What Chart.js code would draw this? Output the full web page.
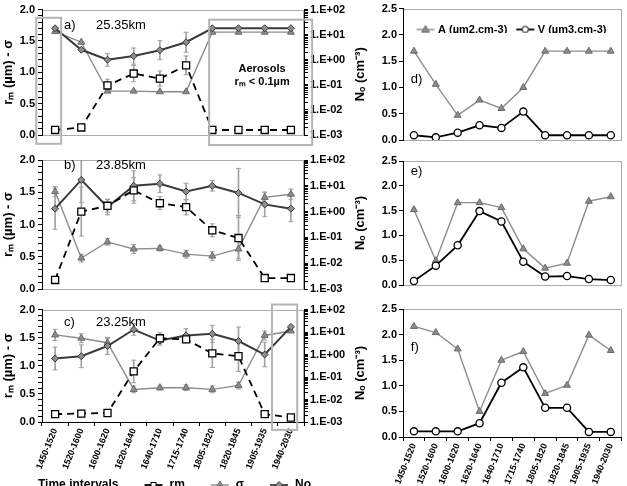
<!DOCTYPE html>
<html><head><meta charset="utf-8">
<script src="https://cdn.jsdelivr.net/npm/chart.js@4/dist/chart.umd.min.js"></script>
<style>
html,body{margin:0;padding:0;background:#fff;overflow:hidden;width:627px;height:486px;position:relative}
canvas{position:absolute}
</style></head><body>
<canvas id="ca" width="350" height="150" style="left:0;top:0;width:350px;height:150px"></canvas>
<canvas id="cb" width="350" height="150" style="left:0;top:150px;width:350px;height:150px"></canvas>
<canvas id="cc" width="363" height="201" style="left:-13px;top:300px;width:363px;height:201px"></canvas>
<canvas id="cd" width="282" height="150" style="left:345px;top:0;width:282px;height:150px"></canvas>
<canvas id="ce" width="282" height="150" style="left:345px;top:150px;width:282px;height:150px"></canvas>
<canvas id="cf" width="282" height="200" style="left:345px;top:300px;width:282px;height:200px"></canvas>
<canvas id="cl" width="219" height="40" style="left:403px;top:13px;width:219px;height:40px"></canvas>
<script>
// ---------------- data ----------------
const categories = ['1450-1520','1520-1600','1600-1620','1620-1640','1640-1710','1715-1740','1805-1820','1820-1845','1905-1935','1940-2030'];

// panel a (25.35 km)
const rmA      = [0.08, 0.12, 0.79, 0.98, 0.90, 1.11, 0.08, 0.08, 0.08, 0.08];
const rmErrA   = [0, 0, 0.10, 0.13, 0.12, 0.15, 0, 0, 0, 0];
const sigmaA   = [1.65, 1.48, 0.70, 0.70, 0.69, 0.69, 1.64, 1.64, 1.64, 1.64];
const sigmaErrA= [0, 0, 0, 0, 0, 0, 0, 0, 0, 0];
const noA      = [18, 2.5, 1.0, 1.4, 2.4, 5.0, 18, 18, 18, 18];
const noErrFA  = [0, 0, 1.8, 2.1, 2.4, 2.5, 0, 0, 0, 0];

// panel b (23.85 km)
const rmB      = [0.14, 1.20, 1.29, 1.53, 1.33, 1.27, 0.91, 0.79, 0.17, 0.17];
const rmErrB   = [0.03, 0.38, 0.10, 0.20, 0.10, 0.12, 0.10, 0.35, 0, 0.05];
const sigmaB   = [1.51, 0.48, 0.73, 0.62, 0.63, 0.54, 0.51, 0.62, 1.42, 1.47];
const sigmaErrB= [0.08, 0.06, 0.05, 0.07, 0.04, 0.06, 0.07, 0.15, 0.08, 0.08];
const noB      = [1.3, 17, 1.5, 10, 12, 6.0, 10, 5.3, 1.9, 1.3];
const noErrFB  = [6.3, 7.5, 2.0, 3.8, 2.2, 2.1, 1.6, 8.9, 3.0, 3.2];

// panel c (23.25 km)
const rmC      = [0.14, 0.15, 0.16, 0.90, 1.49, 1.47, 1.22, 1.17, 0.14, 0.08];
const rmErrC   = [0, 0.06, 0, 0.20, 0.10, 0.06, 0.25, 0.27, 0, 0];
const sigmaC   = [1.55, 1.49, 1.41, 0.58, 0.61, 0.61, 0.58, 0.65, 1.54, 1.62];
const sigmaErrC= [0.10, 0.08, 0.08, 0.06, 0.04, 0.05, 0.06, 0.06, 0.08, 0];
const noC      = [0.67, 0.84, 2.4, 13, 4.2, 7.1, 8.4, 4.0, 1.0, 17];
const noErrFC  = [3.2, 3.2, 2.4, 1.8, 1.6, 2.0, 2.4, 4.2, 3.5, 0];

// right panels: A (µm2.cm-3) and V (µm3.cm-3)
const areaD = [1.69, 1.06, 0.47, 0.76, 0.60, 1.00, 1.69, 1.69, 1.69, 1.69];
const volD  = [0.09, 0.05, 0.14, 0.28, 0.23, 0.54, 0.09, 0.09, 0.09, 0.09];
const areaE = [1.52, 0.49, 1.66, 1.66, 1.56, 0.73, 0.34, 0.44, 1.69, 1.78];
const volE  = [0.08, 0.39, 0.80, 1.49, 1.28, 0.47, 0.17, 0.18, 0.12, 0.10];
const areaF = [2.16, 2.04, 1.72, 0.50, 1.50, 1.67, 0.85, 1.01, 1.99, 1.69];
const volF  = [0.11, 0.11, 0.11, 0.27, 1.06, 1.36, 0.57, 0.57, 0.10, 0.10];

// tick labels
const rmTickLabels = ['0.0','0.5','1.0','1.5','2.0'];
const noTickLabels = ['1.E-03','1.E-02','1.E-01','1.E+00','1.E+01','1.E+02'];
const avTickLabels = ['0.0','0.5','1.0','1.5','2.0','2.5'];

// ---------------- style ----------------
const FONT = '"Liberation Sans", Arial, Helvetica, sans-serif';
Chart.defaults.font.family = FONT;
Chart.defaults.color = '#000';
Chart.defaults.animation = false;

const C_RM = '#000000', C_SIG = '#8c8c8c', C_SIGB = '#6a6a6a', C_NO = '#3a3a3a', C_ERR = '#a2a2a2', C_FRAME = '#ababab';

// legend symbol: line with marker, drawn in [x0, x0+18] of a canvas of width w
function sym(kind, w, x0) {
  const c = document.createElement('canvas'); c.width = w; c.height = 10;
  const g = c.getContext('2d');
  const col = {rm: C_RM, sig: C_SIG, no: C_NO, A: C_SIG, V: C_RM}[kind];
  const m = x0 + 9;
  g.strokeStyle = col; g.lineWidth = kind === 'sig' || kind === 'A' ? 1.4 : 1.8;
  g.beginPath(); g.moveTo(x0, 5); g.lineTo(x0 + 18, 5); g.stroke();
  g.lineWidth = 1;
  if (kind === 'rm') { g.fillStyle = '#fff'; g.fillRect(m - 3, 2, 6, 6); g.strokeStyle = '#000'; g.strokeRect(m - 2.5, 2.5, 5, 5); }
  if (kind === 'sig' || kind === 'A') { g.fillStyle = C_SIG; g.strokeStyle = C_SIGB; g.beginPath(); g.moveTo(m, 1); g.lineTo(m + 4, 8); g.lineTo(m - 4, 8); g.closePath(); g.fill(); g.stroke(); }
  if (kind === 'no') { g.fillStyle = '#8c8c8c'; g.strokeStyle = C_NO; g.beginPath(); g.moveTo(m, 1.5); g.lineTo(m + 3.5, 5); g.lineTo(m, 8.5); g.lineTo(m - 3.5, 5); g.closePath(); g.fill(); g.stroke(); }
  if (kind === 'V') { g.fillStyle = '#fff'; g.strokeStyle = '#000'; g.beginPath(); g.arc(m, 5, 3.2, 0, Math.PI * 2); g.fill(); g.stroke(); }
  return c;
}
const blank = document.createElement('canvas'); blank.width = 1; blank.height = 1;

const logTicks = [];
for (let e = -3; e <= 1; e++) for (let s = 1; s <= 9; s++) logTicks.push(+(s * Math.pow(10, e)).toPrecision(3));
logTicks.push(100);

function rmLabel(v) { const k = Math.round(v * 10); return (Math.abs(v * 10 - k) < 1e-6 && k % 5 === 0) ? rmTickLabels[k / 5] : ''; }
function noLabel(v) { const e = Math.log10(v); const r = Math.round(e); return Math.abs(e - r) < 1e-6 ? noTickLabels[r + 3] : ''; }
function avLabel(v) { const k = Math.round(v * 2); return Math.abs(v * 2 - k) < 1e-6 ? avTickLabels[k] : ''; }

// decoration plugin: light frame around plot area, annotation boxes and texts
const deco = {
  id: 'deco',
  beforeDraw(chart, args, o) {
    if (!o.frame) return;
    const {ctx, chartArea: a} = chart;
    ctx.save(); ctx.strokeStyle = C_FRAME; ctx.lineWidth = 1;
    ctx.strokeRect(Math.round(a.left) + 0.5, Math.round(a.top) + 0.5, Math.round(a.right - a.left) - 1, Math.round(a.bottom - a.top));
    ctx.restore();
  },
  afterDatasetsDraw(chart, args, o) {
    const {ctx, scales} = chart; const x = scales.x, y = scales.y;
    if (!x || !y) return;
    ctx.save();
    (o.boxes || []).forEach(b => {
      ctx.strokeStyle = '#b4b4b4'; ctx.lineWidth = 2;
      const x0 = x.getPixelForValue(b.x0), x1 = x.getPixelForValue(b.x1);
      const y0 = y.getPixelForValue(b.y1), y1 = y.getPixelForValue(b.y0);
      ctx.strokeRect(x0, y0, x1 - x0, y1 - y0);
    });
    (o.texts || []).forEach(t => {
      ctx.fillStyle = '#000'; ctx.font = t.font; ctx.textAlign = t.align || 'left'; ctx.textBaseline = 'middle';
      ctx.fillText(t.text, x.getPixelForValue(t.x), y.getPixelForValue(t.y));
    });
    ctx.restore();
  }
};

function errorDatasets(vals, errs, yAxisID, factor) {
  const lo = vals.map((v, i) => errs[i] ? (factor ? v / errs[i] : v - errs[i]) : null);
  const hi = vals.map((v, i) => errs[i] ? (factor ? v * errs[i] : v + errs[i]) : null);
  const cap = {type: 'line', yAxisID, showLine: false, pointStyle: 'line', pointRadius: 2.5, pointBorderColor: C_ERR, pointBorderWidth: 1, order: 20};
  return [
    {type: 'bar', data: lo.map((l, i) => l === null ? null : [l, hi[i]]), yAxisID, backgroundColor: C_ERR, barThickness: 1, grouped: false, order: 20},
    Object.assign({data: lo}, cap),
    Object.assign({data: hi}, cap)
  ];
}

function leftChart(id, c) {
  const datasets = [
    {label: 'rm', data: c.rm, yAxisID: 'y', borderColor: C_RM, borderWidth: 1.8, borderDash: [7, 5], pointStyle: 'rect', pointRadius: 5, pointBackgroundColor: '#fff', pointBorderColor: '#000', pointBorderWidth: 1.3, order: 1},
    {label: 'σ', data: c.sig, yAxisID: 'y', borderColor: C_SIG, borderWidth: 1.4, pointStyle: 'triangle', pointRadius: 4, pointBackgroundColor: C_SIG, pointBorderColor: C_SIGB, pointBorderWidth: 1, order: 3},
    {label: 'No', data: c.no, yAxisID: 'y2', borderColor: C_NO, borderWidth: 2, pointStyle: 'rectRot', pointRadius: 3.5, pointBackgroundColor: '#8c8c8c', pointBorderColor: C_NO, pointBorderWidth: 1, order: 2},
    ...errorDatasets(c.rm, c.rmErr, 'y', false),
    ...errorDatasets(c.sig, c.sigErr, 'y', false),
    ...errorDatasets(c.no, c.noErr, 'y2', true)
  ];
  return new Chart(document.getElementById(id), {
    type: 'line',
    data: {labels: categories, datasets},
    plugins: [deco],
    options: {
      responsive: false, devicePixelRatio: 1, animation: false,
      layout: {padding: {top: c.padTop, left: 0, right: 0, bottom: 0}},
      elements: {line: {tension: 0}},
      plugins: {
        tooltip: {enabled: false},
        deco: {frame: true, boxes: c.boxes, texts: c.texts},
        legend: c.legend || {display: false}
      },
      scales: {
        x: {type: 'category', offset: true,
          grid: {offset: true, drawOnChartArea: false, drawTicks: c.showX, tickLength: 4, color: '#000'},
          border: {color: c.showX ? '#000' : C_FRAME, width: 1},
          ticks: {display: c.showX, autoSkip: false, maxRotation: 68, minRotation: 68, padding: 1, font: {size: 9, weight: 'bold'}},
          afterFit(s) { s.height = c.xH; }},
        y: {type: 'linear', position: 'left', min: 0, max: 2,
          ticks: {stepSize: 0.1, autoSkip: false, padding: 3, font: {size: 11, weight: 'bold'}, callback: v => rmLabel(v)},
          grid: {drawOnChartArea: false, tickLength: 4, color: '#000'},
          border: {color: '#000', width: 1},
          title: {display: true, text: 'rₘ (µm) - σ', font: {size: 13, weight: 'bold'}, padding: {top: c.titlePad, bottom: 0}},
          afterFit(s) { s.width = c.yW; }},
        y2: {type: 'logarithmic', position: 'right', min: 1e-3, max: 1e2,
          afterBuildTicks(s) { s.ticks = logTicks.map(v => ({value: v})); },
          ticks: {autoSkip: false, padding: 2, font: {size: 11, weight: 'bold'}, callback: v => noLabel(v)},
          grid: {drawOnChartArea: false, tickLength: 4, color: '#000'},
          border: {color: '#000', width: 1},
          afterFit(s) { s.width = 46; }}
      }
    }
  });
}

function rightChart(id, c) {
  const datasets = [
    {label: 'A (µm2.cm-3)', data: c.area, borderColor: C_SIG, borderWidth: 1.4, pointStyle: 'triangle', pointRadius: 4, pointBackgroundColor: C_SIG, pointBorderColor: C_SIGB, pointBorderWidth: 1, order: 2},
    {label: 'V (µm3.cm-3)', data: c.vol, borderColor: C_RM, borderWidth: 1.8, pointStyle: 'circle', pointRadius: 3.6, pointBackgroundColor: '#fff', pointBorderColor: '#000', pointBorderWidth: 1.3, order: 1}
  ];
  return new Chart(document.getElementById(id), {
    type: 'line',
    data: {labels: categories, datasets},
    plugins: [deco],
    options: {
      responsive: false, devicePixelRatio: 1, animation: false,
      layout: {padding: {top: c.padTop, left: 0, right: 5, bottom: 0}},
      elements: {line: {tension: 0}},
      plugins: {tooltip: {enabled: false}, deco: {frame: true, texts: c.texts}, legend: {display: false}},
      scales: {
        x: {type: 'category', offset: true,
          grid: {offset: true, drawOnChartArea: false, drawTicks: c.showX, tickLength: 4, color: '#000'},
          border: {color: c.showX ? '#000' : C_FRAME, width: 1},
          ticks: {display: c.showX, autoSkip: false, maxRotation: 68, minRotation: 68, padding: 1, font: {size: 9, weight: 'bold'}},
          afterFit(s) { s.height = c.xH; }},
        y: {type: 'linear', position: 'left', min: 0, max: 2.5,
          ticks: {stepSize: 0.5, autoSkip: false, padding: 2, font: {size: 11, weight: 'bold'}, callback: v => avLabel(v)},
          grid: {drawOnChartArea: false, tickLength: 4, color: '#000'},
          border: {color: '#000', width: 1},
          title: {display: true, text: 'Nₒ (cm⁻³)', font: {size: 13, weight: 'bold'}, padding: {top: 8, bottom: 0}},
          afterFit(s) { s.width = 58; }}
      }
    }
  });
}

const TXT = '13px ' + FONT, BTXT = 'bold 11px ' + FONT;

leftChart('ca', {rm: rmA, rmErr: rmErrA, sig: sigmaA, sigErr: sigmaErrA, no: noA, noErr: noErrFA,
  showX: false, padTop: 9, xH: 15, yW: 42, titlePad: 1,
  boxes: [{x0: -0.72, x1: 0.23, y0: -0.14, y1: 1.87}, {x0: 5.88, x1: 9.81, y0: -0.16, y1: 1.84}],
  texts: [{text: 'a)', x: 0.34, y: 1.75, font: TXT}, {text: '25.35km', x: 1.56, y: 1.75, font: TXT},
          {text: 'Aerosols', x: 7.9, y: 1.06, font: BTXT, align: 'center'}, {text: 'rₘ < 0.1µm', x: 7.9, y: 0.84, font: BTXT, align: 'center'}]});

leftChart('cb', {rm: rmB, rmErr: rmErrB, sig: sigmaB, sigErr: sigmaErrB, no: noB, noErr: noErrFB,
  showX: false, padTop: 10, xH: 11, yW: 42, titlePad: 1,
  texts: [{text: 'b)', x: 0.34, y: 1.92, font: TXT}, {text: '23.85km', x: 1.56, y: 1.92, font: TXT}]});

leftChart('cc', {rm: rmC, rmErr: rmErrC, sig: sigmaC, sigErr: sigmaErrC, no: noC, noErr: noErrFC,
  showX: true, padTop: 9, xH: 51, yW: 55, titlePad: 14,
  boxes: [{x0: 8.28, x1: 9.24, y0: -0.14, y1: 2.09}],
  texts: [{text: 'c)', x: 0.34, y: 1.77, font: TXT}, {text: '23.25km', x: 1.56, y: 1.77, font: TXT}],
  legend: {display: true, position: 'bottom', align: 'start',
    labels: {usePointStyle: true, pointStyleWidth: 39, padding: 6, font: {size: 12, weight: 'bold'}, color: '#000',
      generateLabels: () => [
        {text: 'Time intervals', pointStyle: blank, fillStyle: 'transparent', strokeStyle: 'transparent', lineWidth: 0, hidden: false, datasetIndex: 0},
        {text: 'rm', pointStyle: sym('rm', 39, 20), fillStyle: '#fff', strokeStyle: '#000', lineWidth: 1, hidden: false, datasetIndex: 0},
        {text: 'σ', pointStyle: sym('sig', 39, 20), fillStyle: C_SIG, strokeStyle: C_SIG, lineWidth: 1, hidden: false, datasetIndex: 1},
        {text: 'No', pointStyle: sym('no', 39, 20), fillStyle: '#8c8c8c', strokeStyle: C_NO, lineWidth: 1, hidden: false, datasetIndex: 2}
      ]}}});

rightChart('cd', {area: areaD, vol: volD, showX: false, padTop: 8, xH: 10,
  texts: [{text: 'd)', x: -0.14, y: 1.16, font: TXT}]});
rightChart('ce', {area: areaE, vol: volE, showX: false, padTop: 11, xH: 15,
  texts: [{text: 'e)', x: -0.14, y: 2.29, font: TXT}]});
rightChart('cf', {area: areaF, vol: volF, showX: true, padTop: 9, xH: 63,
  texts: [{text: 'f)', x: -0.14, y: 1.74, font: TXT}]});

// legend of panel d (drawn inside its plot area)
new Chart(document.getElementById('cl'), {
  type: 'line',
  data: {labels: [], datasets: [{label: 'A (µm2.cm-3)', data: []}, {label: 'V (µm3.cm-3)', data: []}]},
  options: {
    responsive: false, devicePixelRatio: 1, animation: false,
    layout: {padding: 0},
    scales: {x: {display: false}, y: {display: false}},
    plugins: {tooltip: {enabled: false},
      legend: {display: true, position: 'top', align: 'center',
        labels: {usePointStyle: true, pointStyleWidth: 14, padding: 11, font: {size: 11, weight: 'bold'}, color: '#000',
          generateLabels: () => [
            {text: 'A (µm2.cm-3)', pointStyle: sym('A', 20, 1), fillStyle: C_SIG, strokeStyle: C_SIG, lineWidth: 1, hidden: false, datasetIndex: 0},
            {text: 'V (µm3.cm-3)', pointStyle: sym('V', 20, 1), fillStyle: '#fff', strokeStyle: '#000', lineWidth: 1, hidden: false, datasetIndex: 1}
          ]}}}
  }
});
</script>
</body></html>
